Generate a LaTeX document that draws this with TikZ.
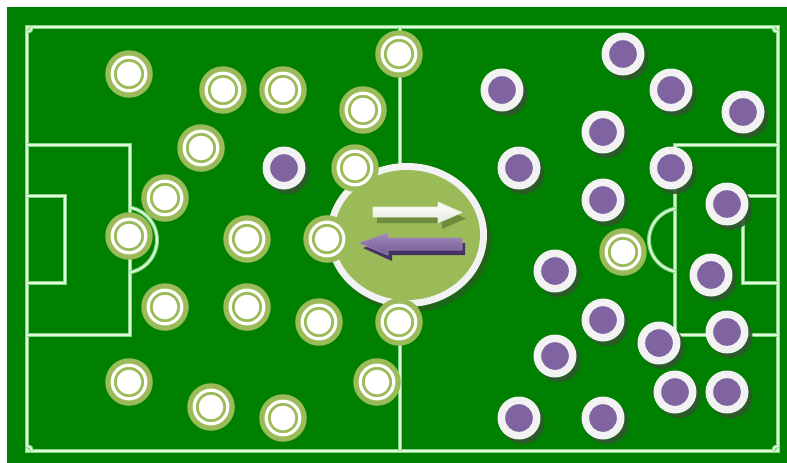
\documentclass[tikz,border=0pt]{standalone}
\usetikzlibrary{shadows}
\definecolor{field}{RGB}{0,128,0}
\definecolor{pgreen}{RGB}{155,187,89}
\definecolor{ppurple}{RGB}{128,100,162}
\definecolor{pwhite}{RGB}{242,242,242}
\definecolor{lineglow}{RGB}{130,215,130}
\definecolor{linecore}{RGB}{225,250,220}
\definecolor{shadowc}{RGB}{45,88,45}
\definecolor{ellshadow}{RGB}{30,100,25}
\definecolor{warrowsh}{RGB}{110,140,60}
\definecolor{parrowsh}{RGB}{70,50,100}
\tikzset{
  fline/.style={draw=linecore, line width=1.7pt, preaction={draw=lineglow, line width=4pt}},
  gplayer/.style={circle, inner sep=0pt, minimum size=47.5pt, fill=pgreen,
    path picture={
      \draw[white, line width=3.2pt] (path picture bounding box.center) circle[radius=16.8];
      \fill[white] (path picture bounding box.center) circle[radius=12.3];}},
  pplayer/.style={circle, inner sep=0pt, minimum size=43pt, fill=pwhite,
    drop shadow={shadow xshift=4pt, shadow yshift=-4.5pt, fill=shadowc, opacity=0.9},
    path picture={
      \fill[ppurple] (path picture bounding box.center) circle[radius=13.8];}}
}
\begin{document}
\begin{tikzpicture}[x=1pt,y=-1pt]
\useasboundingbox (0,0) rectangle (787,463);
\fill[white] (0,0) rectangle (787,463);
\fill[field] (7,7) rectangle (787,463);
% pitch lines
\draw[fline] (27,27) rectangle (778,451);
\draw[fline] (400,27) -- (400,451);
\draw[fline] (27,145) -- (130,145) -- (130,335) -- (27,335);
\draw[fline] (27,196) -- (65,196) -- (65,283) -- (27,283);
\draw[fline] (124,240) ++(-80:33) arc[start angle=-80, end angle=80, radius=33];
\draw[fline] (778,145) -- (675,145) -- (675,335) -- (778,335);
\draw[fline] (778,196) -- (743,196) -- (743,283) -- (778,283);
\draw[fline] (681,240) ++(100:32) arc[start angle=100, end angle=260, radius=32];
\draw[fline] (32,27) arc[start angle=0, end angle=90, radius=5];
\draw[fline] (773,27) arc[start angle=180, end angle=90, radius=5];
\draw[fline] (32,451) arc[start angle=0, end angle=-90, radius=5];
\draw[fline] (773,451) arc[start angle=180, end angle=270, radius=5];
% central ellipse
\fill[ellshadow] (411,240) ellipse[x radius=80, y radius=72];
\fill[pwhite] (407,235) ellipse[x radius=80, y radius=72];
\fill[pgreen] (407,235) ellipse[x radius=73, y radius=65];
% white arrow
\fill[warrowsh] (377,213) -- (442,213) -- (442,208) -- (466,218.5) -- (442,229) -- (442,223) -- (377,223) -- cycle;
\shade[top color=white, bottom color=pwhite!85!pgreen, draw=white!80!pgreen, line width=0.6pt]
  (373,207) -- (438,207) -- (438,202) -- (462,212.5) -- (438,223) -- (438,217) -- (373,217) -- cycle;
% purple arrow
\fill[parrowsh] (363,248) -- (392,238) -- (392,243) -- (465,243) -- (465,255) -- (392,255) -- (392,261) -- cycle;
\shade[top color=ppurple!75!white, bottom color=ppurple!90!black, draw=ppurple!70!white, line width=0.6pt]
  (359,243) -- (388,233) -- (388,238) -- (462,238) -- (462,250) -- (388,250) -- (388,255) -- cycle;
% green players
\node[gplayer] (g1) at (129,74) {};
\node[gplayer] (g2) at (223,90) {};
\node[gplayer] (g3) at (283,90) {};
\node[gplayer] (g4) at (399,54) {};
\node[gplayer] (g5) at (363,110) {};
\node[gplayer] (g6) at (201,148) {};
\node[gplayer] (g7) at (355,168) {};
\node[gplayer] (g8) at (165,198) {};
\node[gplayer] (g9) at (129,236) {};
\node[gplayer] (g10) at (247,239) {};
\node[gplayer] (g11) at (327,239) {};
\node[gplayer] (g12) at (165,307) {};
\node[gplayer] (g13) at (247,307) {};
\node[gplayer] (g14) at (319,322) {};
\node[gplayer] (g15) at (399,322) {};
\node[gplayer] (g16) at (129,382) {};
\node[gplayer] (g17) at (211,407) {};
\node[gplayer] (g18) at (283,418) {};
\node[gplayer] (g19) at (377,382) {};
\node[gplayer] (g20) at (623,252) {};
% purple players
\node[pplayer] (p1) at (502,90) {};
\node[pplayer] (p2) at (623,54) {};
\node[pplayer] (p3) at (671,90) {};
\node[pplayer] (p4) at (743,112) {};
\node[pplayer] (p5) at (603,132) {};
\node[pplayer] (p6) at (284,168) {};
\node[pplayer] (p7) at (519,168) {};
\node[pplayer] (p8) at (671,168) {};
\node[pplayer] (p9) at (603,200) {};
\node[pplayer] (p10) at (727,204) {};
\node[pplayer] (p11) at (555,271) {};
\node[pplayer] (p12) at (711,275) {};
\node[pplayer] (p13) at (603,320) {};
\node[pplayer] (p14) at (659,343) {};
\node[pplayer] (p15) at (727,332) {};
\node[pplayer] (p16) at (555,356) {};
\node[pplayer] (p17) at (675,392) {};
\node[pplayer] (p18) at (727,392) {};
\node[pplayer] (p19) at (519,418) {};
\node[pplayer] (p20) at (603,418) {};
\end{tikzpicture}
\end{document}
